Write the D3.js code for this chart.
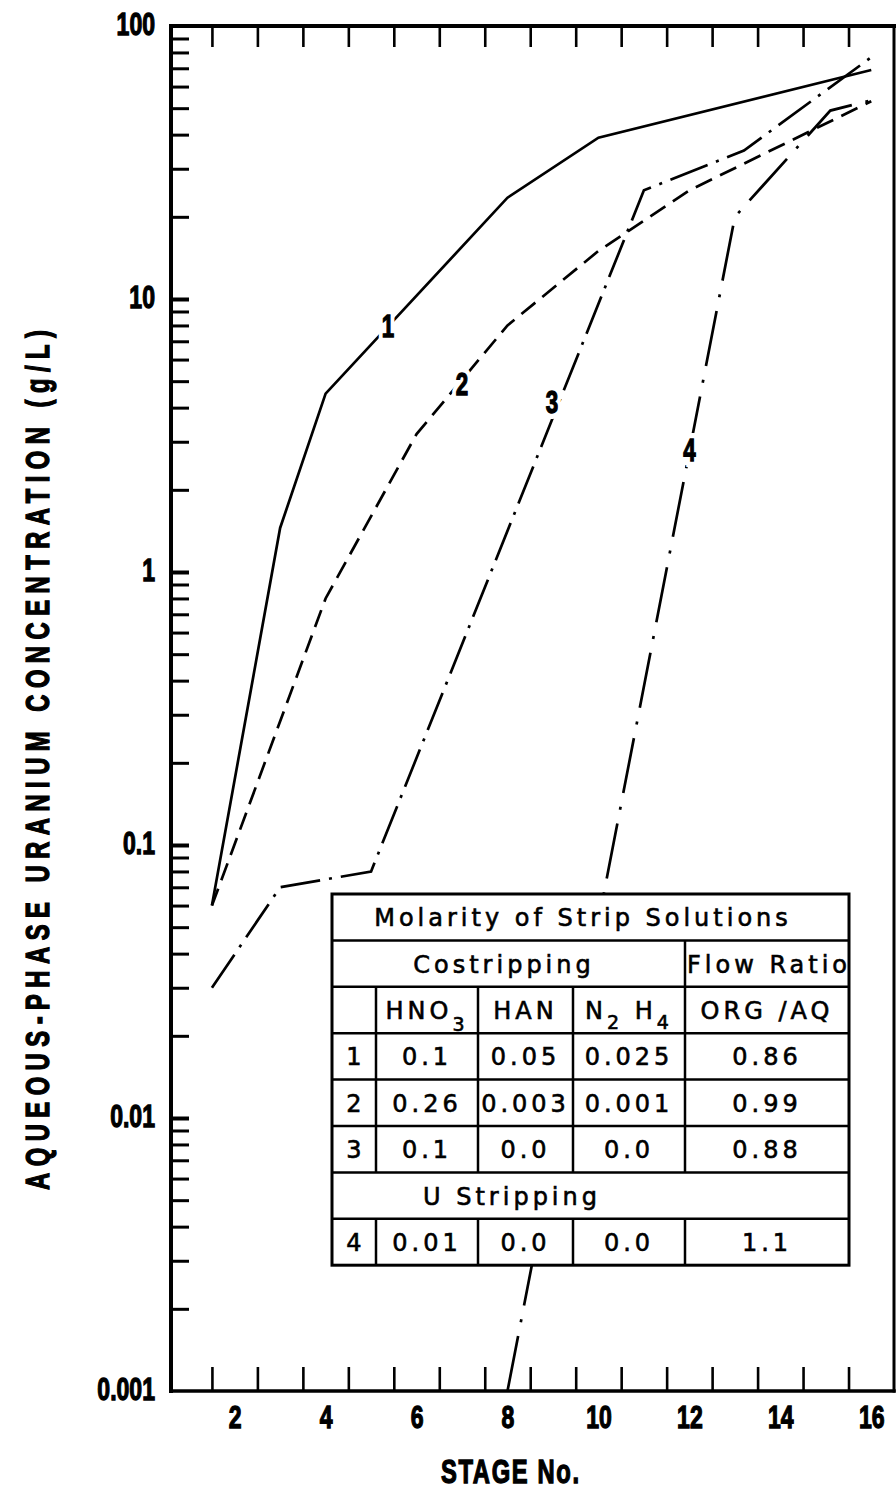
<!DOCTYPE html>
<html>
<head>
<meta charset="utf-8">
<script src="https://cdn.jsdelivr.net/npm/d3@7"></script>
<style>
  body { margin: 0; background: #fff; }
  svg { display: block; }
</style>
</head>
<body>
<svg id="chart" width="896" height="1492"></svg>
<script>
// curves: stage number vs aqueous U (g/L)
const stages1 = [1.5, 3, 4, 8, 10, 16]
const conc1 = [0.06, 1.45, 4.5, 23.5, 39, 69]
const stages2 = [1.5, 4, 6, 8, 10, 12, 16]
const conc2 = [0.06, 0.8, 3.2, 8, 15, 25, 53]
const stages3 = [1.5, 3, 5, 11, 13.2, 16.1]
const conc3 = [0.03, 0.07, 0.08, 25, 35, 79]
const stages4 = [8, 13, 15.1, 16.1]
const conc4 = [0.001, 20, 49, 54]

const curveNames = ['1', '2', '3', '4']
const labelStage = [5.37, 7.0, 8.98, 12.0]
const labelConc = [8.0, 4.9, 4.2, 2.8]

const stageBoundaries = [1.5, 2.5, 3.5, 4.5, 5.5, 6.5, 7.5, 8.5, 9.5, 10.5, 11.5, 12.5, 13.5, 14.5, 15.5]
const stageLabels = [2, 4, 6, 8, 10, 12, 14, 16]
const decadeValues = [0.001, 0.01, 0.1, 1, 10, 100]
const decadeLabels = ['0.001', '0.01', '0.1', '1', '10', '100']

// table of strip solutions
const tableTitle = 'Molarity of Strip Solutions'
const groupCo = 'Costripping'
const groupFlow = 'Flow Ratio'
const groupU = 'U Stripping'
const runIds = ['1', '2', '3', '4']
const hno3 = ['0.1', '0.26', '0.1', '0.01']
const han = ['0.05', '0.003', '0.0', '0.0']
const n2h4 = ['0.025', '0.001', '0.0', '0.0']
const orgAq = ['0.86', '0.99', '0.88', '1.1']

const plotLeft = 171, plotRight = 894, plotTop = 26, plotBottom = 1391
// the original lettering is a heavy condensed bold; squeeze a normal bold sideways
const boldFont = "'Liberation Sans', Arial, sans-serif"
const sx = 0.72
const tableFont = "'DejaVu Sans', sans-serif"

const svg = d3.select('#chart')

const x = d3.scaleLinear().domain([0.6, 16.5]).range([plotLeft, plotRight])
const y = d3.scaleLog().domain([0.001, 100]).range([plotBottom, plotTop])

function heavy(sel, size) {
    sel.attr('font-family', boldFont)
        .attr('font-weight', 'bold')
        .attr('font-size', size)
        .attr('fill', '#000')
        .attr('stroke', '#000')
        .attr('stroke-width', 1.3)
}

// left axis: minor ticks inside, labels only on decades
const yAxis = svg.append('g')
    .attr('transform', `translate(${plotLeft},0)`)
    .call(d3.axisLeft(y)
        .tickValues(y.ticks().filter(d => d < 100 && d > 0.001))
        .tickSizeInner(-18)
        .tickSizeOuter(0)
        .tickFormat(() => ''))
yAxis.select('.domain').remove()
yAxis.selectAll('.tick line')
    .attr('stroke', '#000')
    .attr('stroke-width', d => decadeValues.includes(d) ? 4 : 3)

const yLabels = svg.append('g')
    .attr('transform', `translate(${plotLeft},0)`)
    .call(d3.axisLeft(y)
        .tickValues(decadeValues)
        .tickSize(0)
        .tickPadding(16)
        .tickFormat((d, i) => decadeLabels[i]))
yLabels.select('.domain').remove()
yLabels.selectAll('text')
    .call(heavy, 32)
    .attr('x', -16 / sx)
    .attr('dy', '0.25em')
    .attr('transform', `scale(${sx},1)`)

// bottom and top ticks at stage boundaries
const xBottom = svg.append('g')
    .attr('transform', `translate(0,${plotBottom})`)
    .call(d3.axisBottom(x).tickValues(stageBoundaries).tickSizeInner(-24).tickSizeOuter(0).tickFormat(() => ''))
xBottom.select('.domain').remove()
xBottom.selectAll('.tick line').attr('stroke', '#000').attr('stroke-width', 2.6)

const xTop = svg.append('g')
    .attr('transform', `translate(0,${plotTop})`)
    .call(d3.axisTop(x).tickValues(stageBoundaries).tickSizeInner(-21).tickSizeOuter(0).tickFormat(() => ''))
xTop.select('.domain').remove()
xTop.selectAll('.tick line').attr('stroke', '#000').attr('stroke-width', 2.6)

const xLabels = svg.append('g')
    .attr('transform', `translate(0,${plotBottom})`)
    .call(d3.axisBottom(x).tickValues(stageLabels).tickSize(0).tickPadding(14))
xLabels.select('.domain').remove()
xLabels.selectAll('text')
    .call(heavy, 32)
    .attr('transform', `scale(${sx},1)`)

// frame
const frame = svg.append('g').attr('stroke', '#000').attr('stroke-linecap', 'square')
frame.append('line').attr('x1', plotLeft).attr('x2', plotLeft).attr('y1', plotTop).attr('y2', plotBottom).attr('stroke-width', 4)
frame.append('line').attr('x1', plotLeft).attr('x2', plotRight).attr('y1', plotTop).attr('y2', plotTop).attr('stroke-width', 4)
frame.append('line').attr('x1', plotLeft).attr('x2', plotRight).attr('y1', plotBottom).attr('y2', plotBottom).attr('stroke-width', 3.5)
frame.append('line').attr('x1', plotRight).attr('x2', plotRight).attr('y1', plotTop).attr('y2', plotBottom).attr('stroke-width', 3)

// axis titles
svg.append('text')
    .attr('transform', `translate(49,760) rotate(-90) scale(${sx},1)`)
    .attr('text-anchor', 'middle')
    .call(heavy, 33)
    .attr('textLength', 860 / sx)
    .attr('lengthAdjust', 'spacing')
    .text('AQUEOUS-PHASE URANIUM CONCENTRATION (g/L)')

svg.append('text')
    .attr('transform', `translate(510,1483) scale(${sx},1)`)
    .attr('text-anchor', 'middle')
    .call(heavy, 33)
    .attr('textLength', 138 / sx)
    .attr('lengthAdjust', 'spacing')
    .text('STAGE No.')

// curves
const series = [
    {stages: stages1, conc: conc1, dash: null},
    {stages: stages2, conc: conc2, dash: '18,9'},
    {stages: stages3, conc: conc3, dash: '40,9,3,9'},
    {stages: stages4, conc: conc4, dash: '56,14,3,14'}
]

const line = d3.line()
    .x(d => x(d[0]))
    .y(d => y(d[1]))

svg.append('g')
    .selectAll('path')
    .data(series)
    .enter().append('path')
    .attr('d', s => line(s.stages.map((st, i) => [st, s.conc[i]])))
    .attr('fill', 'none')
    .attr('stroke', '#000')
    .attr('stroke-width', 2.7)
    .attr('stroke-dasharray', s => s.dash)

// curve numbers sit in a gap of their line
const curveLabels = svg.append('g')
    .selectAll('g')
    .data(curveNames)
    .enter().append('g')
    .attr('transform', (d, i) => `translate(${x(labelStage[i])},${y(labelConc[i])}) scale(${sx},1)`)
curveLabels.append('text')
    .attr('dy', '0.36em')
    .attr('text-anchor', 'middle')
    .attr('font-family', boldFont)
    .attr('font-weight', 'bold')
    .attr('font-size', 31)
    .attr('fill', '#fff')
    .attr('stroke', '#fff')
    .attr('stroke-width', 12)
    .text(d => d)
curveLabels.append('text')
    .attr('dy', '0.36em')
    .attr('text-anchor', 'middle')
    .call(heavy, 31)
    .text(d => d)

// table
const colEdges = [332, 376, 478, 573, 685, 849]
const rowTop = 894, rowH = 46.4, nRows = 8
const rowY = i => rowTop + i * rowH
const colMid = i => (colEdges[i] + colEdges[i + 1]) / 2

const table = svg.append('g')
    .attr('font-family', tableFont)
    .attr('font-size', 24)
    .attr('letter-spacing', 4)

table.append('rect')
    .attr('x', colEdges[0]).attr('y', rowTop)
    .attr('width', colEdges[5] - colEdges[0]).attr('height', nRows * rowH)
    .attr('fill', '#fff').attr('stroke', '#000').attr('stroke-width', 3)

table.selectAll('line.h')
    .data(d3.range(1, nRows))
    .enter().append('line')
    .attr('x1', colEdges[0]).attr('x2', colEdges[5])
    .attr('y1', rowY).attr('y2', rowY)
    .attr('stroke', '#000').attr('stroke-width', 2.5)

const vSegments = [[1, 4]].concat(d3.range(2, 6).flatMap(r => [1, 2, 3, 4].map(c => [r, c])), [1, 2, 3, 4].map(c => [7, c]))
table.selectAll('line.v')
    .data(vSegments)
    .enter().append('line')
    .attr('x1', d => colEdges[d[1]]).attr('x2', d => colEdges[d[1]])
    .attr('y1', d => rowY(d[0])).attr('y2', d => rowY(d[0] + 1))
    .attr('stroke', '#000').attr('stroke-width', 2.5)

const texts = table.append('g')
    .attr('fill', '#000')
    .attr('stroke', '#000')
    .attr('stroke-width', 0.6)

const cellText = (cx, row, str) => texts.append('text')
    .attr('x', cx)
    .attr('y', rowY(row) + rowH / 2 + 9)
    .attr('text-anchor', 'middle')
    .text(str)

cellText(583, 0, tableTitle)
cellText(504, 1, groupCo)
cellText(769, 1, groupFlow)
cellText(512, 6, groupU)

const hdr = texts.append('text')
    .attr('x', colMid(1)).attr('y', rowY(2) + rowH / 2 + 9).attr('text-anchor', 'middle')
hdr.append('tspan').text('HNO')
hdr.append('tspan').attr('dy', 12).attr('font-size', 19).text('3')
cellText(colMid(2), 2, 'HAN')
const hdr2 = texts.append('text')
    .attr('x', colMid(3)).attr('y', rowY(2) + rowH / 2 + 9).attr('text-anchor', 'middle')
hdr2.append('tspan').text('N')
hdr2.append('tspan').attr('dy', 10).attr('font-size', 19).text('2')
hdr2.append('tspan').attr('dy', -10).text(' H')
hdr2.append('tspan').attr('dy', 10).attr('font-size', 19).text('4')
cellText(767, 2, 'ORG /AQ')

const dataRows = [3, 4, 5, 7]
runIds.forEach((id, i) => {
    const r = dataRows[i]
    cellText(colMid(0) + 2, r, id)
    cellText(colMid(1), r, hno3[i])
    cellText(colMid(2), r, han[i])
    cellText(colMid(3), r, n2h4[i])
    cellText(colMid(4), r, orgAq[i])
})
</script>
</body>
</html>
